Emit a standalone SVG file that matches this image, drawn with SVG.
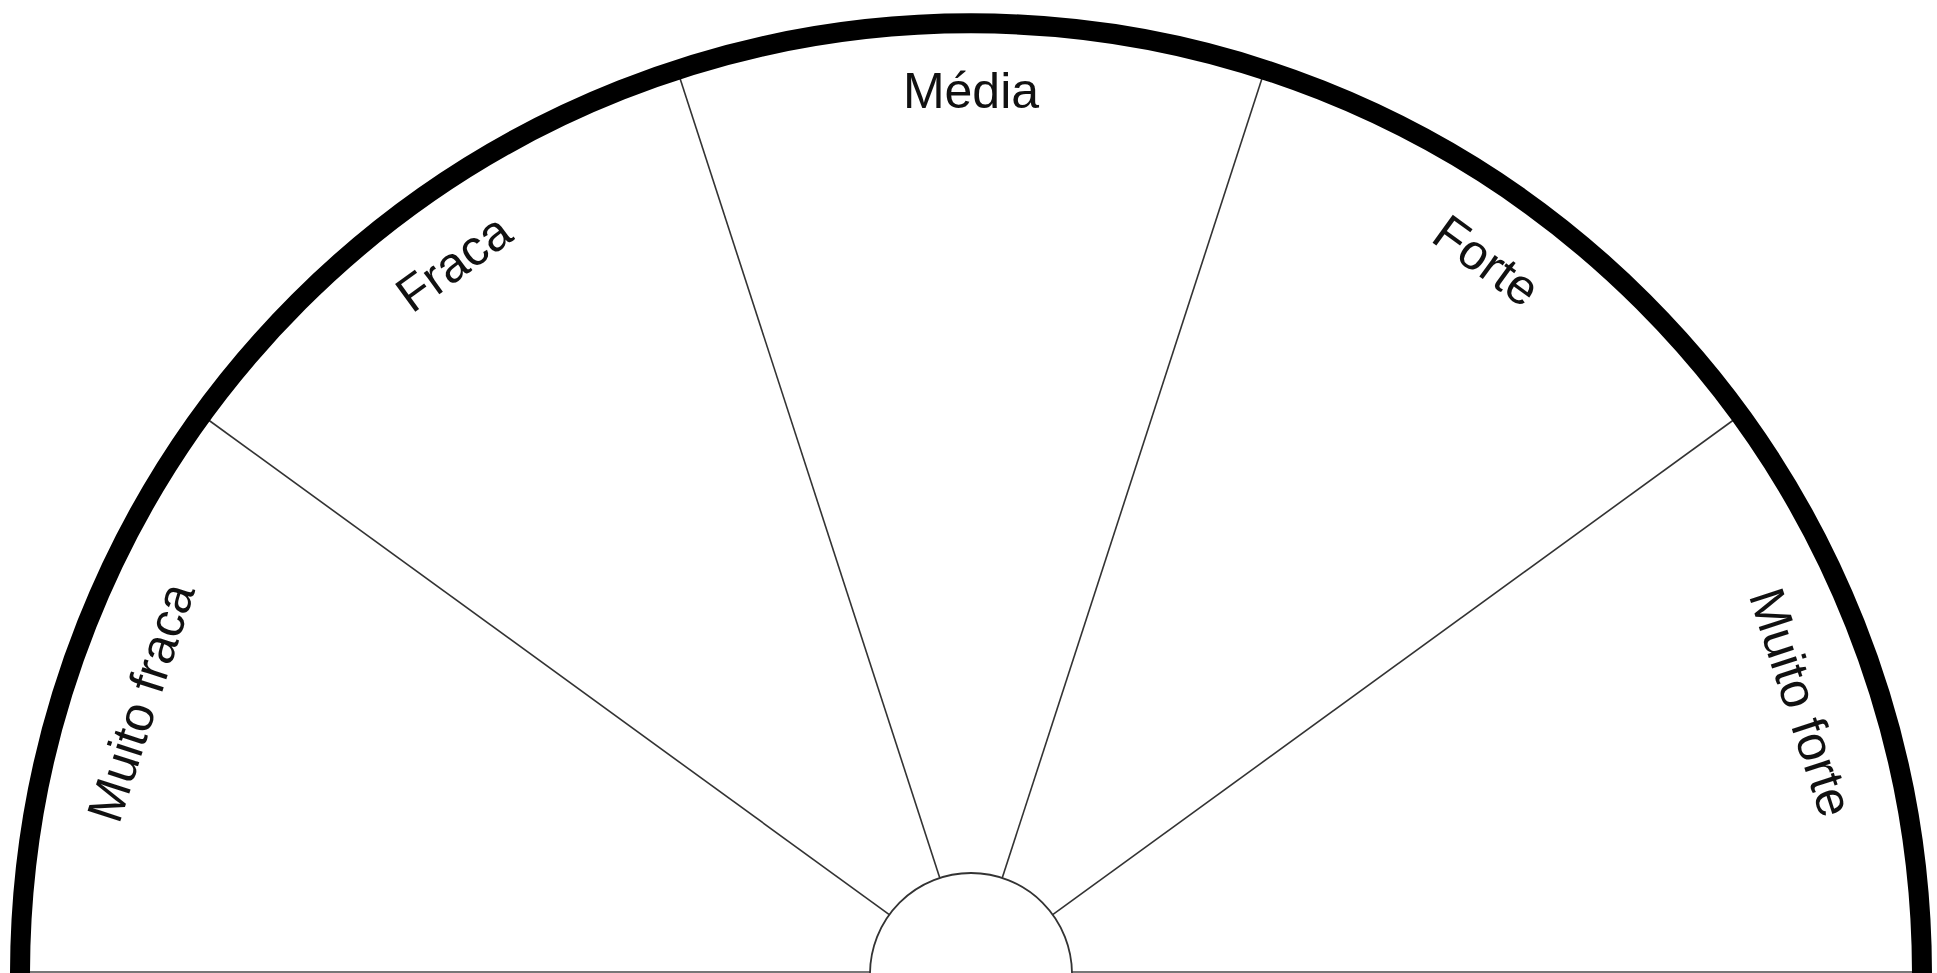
<svg xmlns="http://www.w3.org/2000/svg" width="1937" height="973" viewBox="0 0 1937 973">
<style>
.rim{fill:none;stroke:#000;stroke-width:20}
.spoke{stroke:#333;stroke-width:1.6;fill:none}
.base{stroke:#777;stroke-width:2;fill:none}
.hub{fill:#fff;stroke:#333;stroke-width:1.8}
.lbl{font-family:"Liberation Sans",Arial,sans-serif;font-size:50px;fill:#111;text-anchor:middle}
</style>
<rect width="1937" height="973" fill="#fff"/>
<g id="baseline">
<line class="base" x1="25" y1="972" x2="1917" y2="972"/>
</g>
<g id="connectors">
<line class="spoke" x1="1052.71" y1="914.63" x2="1740.38" y2="415.01"/>
<line class="spoke" x1="1002.21" y1="877.94" x2="1264.88" y2="69.54"/>
<line class="spoke" x1="939.79" y1="877.94" x2="677.12" y2="69.54"/>
<line class="spoke" x1="889.29" y1="914.63" x2="201.62" y2="415.01"/>
</g>
<g id="hub">
<path class="hub" d="M870,974 A101,101 0 0 1 1072,974 Z"/>
</g>
<g id="rim">
<path class="rim" d="M20,974 A951,951 0 0 1 1922,974"/>
</g>
<g id="muito-fraca"><text class="lbl" transform="translate(140,702) rotate(-72)" y="18">Muito fraca</text></g>
<g id="fraca"><text class="lbl" transform="translate(453,262) rotate(-36)" y="18">Fraca</text></g>
<g id="media"><text class="lbl" transform="translate(971,90)" y="18">Média</text></g>
<g id="forte"><text class="lbl" transform="translate(1487,260) rotate(36)" y="18">Forte</text></g>
<g id="muito-forte"><text class="lbl" transform="translate(1802,702) rotate(72)" y="18">Muito forte</text></g>
</svg>
